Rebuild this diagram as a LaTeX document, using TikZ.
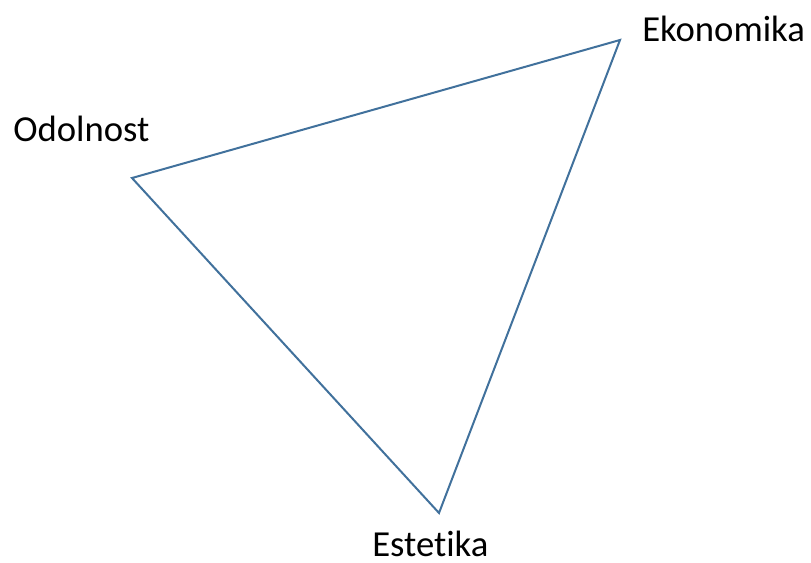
\documentclass[tikz,border=0pt]{standalone}
\usepackage{fontspec}
\setmainfont[Ligatures=NoCommon,RawFeature=-liga]{Carlito}
\definecolor{edge}{HTML}{41719C}
\begin{document}
\begin{tikzpicture}[x=0.75pt,y=-0.75pt,
  lbl/.style={anchor=base west,inner sep=0pt,font=\fontsize{27.5}{33}\selectfont},
  tri/.style={draw=edge,line width=1.5pt,line join=miter}]
\useasboundingbox (0,0) rectangle (811,563);
\coordinate (o) at (132,178);
\coordinate (e) at (620,40);
\coordinate (s) at (439,513);
\draw[tri] (o) -- (e) -- (s) -- cycle;
\node[lbl] (lo) at (642,42) {Ekonomika};
\node[lbl] (lod) at (13,142) {Odolnost};
\node[lbl] (les) at (372,556) {Estetika};
\end{tikzpicture}
\end{document}
